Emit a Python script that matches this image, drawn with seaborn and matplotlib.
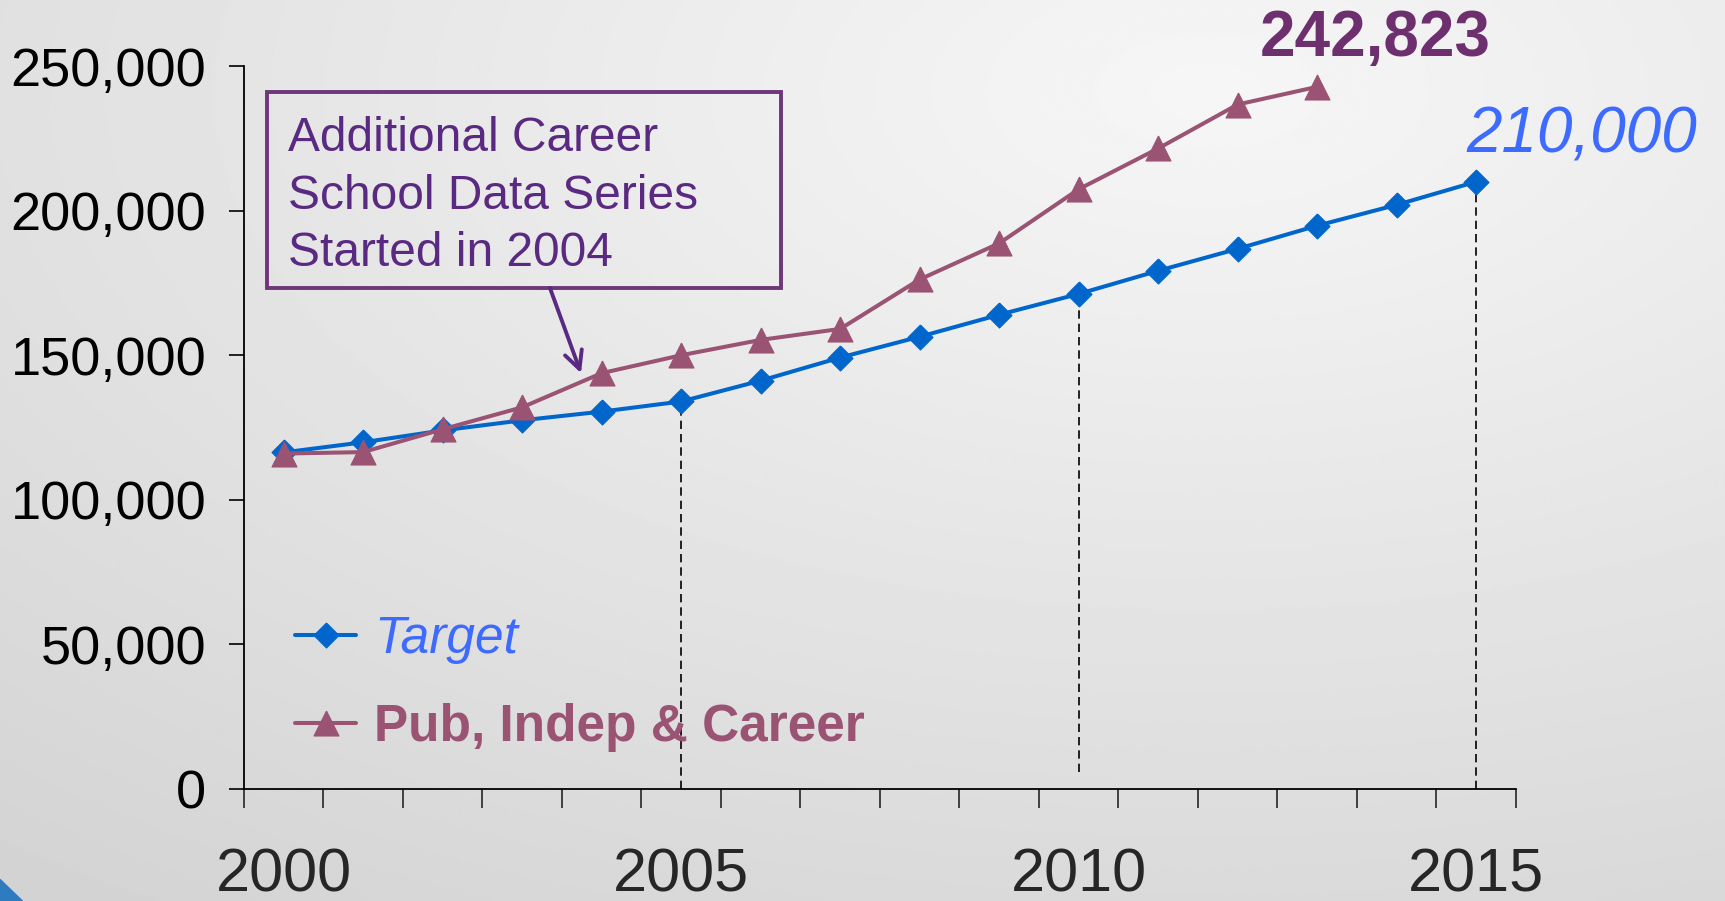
import numpy as np
import pandas as pd
import matplotlib
matplotlib.use("Agg")
import matplotlib.pyplot as plt
import matplotlib.patches as mpatches
from matplotlib.ticker import FuncFormatter
import seaborn as sns

# ── Data ─────────────────────────────────────────────────────────────────────
YEARS = list(range(2000, 2016))
TARGET = [116400, 119900, 124000, 127500, 130500, 134000, 141200, 149200,
          156400, 164000, 171200, 179200, 186800, 194800, 202000, 210000]
PUB_YEARS = list(range(2000, 2014))
PUB_INDEP_CAREER = [116000, 116500, 124400, 132000, 143800, 150000, 155300,
                    159100, 176200, 188700, 207400, 221500, 236700, 242823]
YTICKS = [0, 50000, 100000, 150000, 200000, 250000]
XLABEL_YEARS = [2000, 2005, 2010, 2015]
DROP_YEARS = [2005, 2010, 2015]
DROP_BOTTOMS = [0, 6000, 0]
NOTE = "Additional Career\nSchool Data Series\nStarted in 2004"

# ── Colours / markers ────────────────────────────────────────────────────────
TARGET_COLOR = "#0066CC"
TARGET_TEXT = "#3D6BFF"
PUB_COLOR = "#9A5373"
PUB_LABEL = "#6E2F6E"
NOTE_COLOR = "#5A2A82"
BOX_EDGE = "#70367A"

DIAMOND = [(0, 1), (1, 0), (0, -1), (-1, 0), (0, 1)]
TRIANGLE = [(0, 1), (1, -1), (-1, -1), (0, 1)]

sns.set_style("white")
plt.rcParams["font.family"] = ["Liberation Sans", "DejaVu Sans"]

fig = plt.figure(figsize=(17.25, 9.01), dpi=100)

# ── Background gradient ──────────────────────────────────────────────────────
bg = fig.add_axes([0, 0, 1, 1], zorder=-10)
yy, xx = np.mgrid[0:1:300j, 0:1:600j]
d = np.sqrt(((xx - 0.7) / 0.9) ** 2 + ((yy - 0.1) / 0.9) ** 2)
shade = np.clip(0.965 - 0.11 * d, 0, 1)
bg.imshow(shade, cmap="gray", vmin=0, vmax=1, aspect="auto",
          extent=[0, 1, 0, 1], origin="upper")
bg.add_patch(mpatches.Polygon([(0, 0), (0, 0.024), (0.013, 0)],
                              closed=True, color="#2F7BC0"))
bg.set_xlim(0, 1)
bg.set_ylim(0, 1)
bg.axis("off")

# ── Main chart ───────────────────────────────────────────────────────────────
ax = fig.add_axes([0.1414, 0.1243, 0.7374, 0.8024])
ax.patch.set_alpha(0)

target_df = pd.DataFrame({"year": YEARS, "value": TARGET})
pub_df = pd.DataFrame({"year": PUB_YEARS, "value": PUB_INDEP_CAREER})

sns.lineplot(data=target_df, x="year", y="value", ax=ax, color=TARGET_COLOR,
             lw=2.9, marker=DIAMOND, markersize=18, markeredgewidth=0.8,
             markeredgecolor=TARGET_COLOR, label="Target", zorder=3,
             clip_on=False)
sns.lineplot(data=pub_df, x="year", y="value", ax=ax, color=PUB_COLOR,
             lw=2.9, marker=TRIANGLE, markersize=18, markeredgewidth=0.8,
             markeredgecolor=PUB_COLOR, label="Pub, Indep & Career", zorder=4,
             clip_on=False)

drop_tops = [TARGET[YEARS.index(y)] for y in DROP_YEARS]
ax.vlines(DROP_YEARS, DROP_BOTTOMS, drop_tops, colors="black",
          linestyles=(0, (5, 3)), lw=1.2, zorder=2)

ax.set_xlim(YEARS[0] - 0.5, YEARS[-1] + 0.5)
ax.set_ylim(YTICKS[0], YTICKS[-1])
ax.set_yticks(YTICKS)
ax.yaxis.set_major_formatter(FuncFormatter(lambda v, _: f"{v:,.0f}"))
ax.set_xticks(XLABEL_YEARS)
ax.set_xticklabels([str(y) for y in XLABEL_YEARS])
ax.set_xticks([y - 0.5 for y in YEARS] + [YEARS[-1] + 0.5], minor=True)
ax.set_xlabel("")
ax.set_ylabel("")

ax.tick_params(axis="y", which="major", direction="out", length=11, width=1.2,
               labelsize=39, pad=16, colors="black", left=True)
ax.tick_params(axis="x", which="major", length=0, labelsize=44, pad=42)
ax.tick_params(axis="x", which="minor", direction="out", length=14, width=1.2,
               bottom=True)

for side in ["top", "right"]:
    ax.spines[side].set_visible(False)
for side in ["left", "bottom"]:
    ax.spines[side].set_color("black")
    ax.spines[side].set_linewidth(1.3)

# ── Legend ───────────────────────────────────────────────────────────────────
leg = ax.legend(loc="lower left", bbox_to_anchor=(0.04, 0.051), frameon=False,
                fontsize=37, handlelength=1.2, handletextpad=0.35,
                labelspacing=0.77, borderpad=0, borderaxespad=0)
t_target, t_pub = leg.get_texts()
t_target.set_style("italic")
t_target.set_color(TARGET_TEXT)
t_pub.set_weight("bold")
t_pub.set_color(PUB_COLOR)

# ── End-value labels ─────────────────────────────────────────────────────────
ax.annotate(f"{PUB_INDEP_CAREER[-1]:,}", xy=(PUB_YEARS[-1], PUB_INDEP_CAREER[-1]),
            xytext=(42, 22), textcoords="offset points", ha="center",
            va="baseline", fontsize=46, weight="bold", color=PUB_LABEL)
ax.annotate(f"{TARGET[-1]:,}", xy=(YEARS[-1], TARGET[-1]),
            xytext=(76, 21), textcoords="offset points", ha="center",
            va="baseline", fontsize=46, style="italic", color=TARGET_TEXT)

# ── Note box with arrow ──────────────────────────────────────────────────────
ax.add_patch(mpatches.Rectangle((0.018, 0.693), 0.404, 0.271,
                                transform=ax.transAxes, fill=False,
                                ec=BOX_EDGE, lw=2.8, clip_on=False))
ax.text(0.0346, 0.82, NOTE, transform=ax.transAxes, ha="left", va="center",
        fontsize=34.5, color=NOTE_COLOR, linespacing=1.36)
ax.annotate("", xy=(PUB_YEARS[4] - 0.26, PUB_INDEP_CAREER[4]), xycoords="data",
            xytext=(0.2406, 0.693), textcoords="axes fraction",
            arrowprops=dict(arrowstyle="->", color=NOTE_COLOR, lw=2.8,
                            mutation_scale=32, shrinkA=0, shrinkB=0))

fig.savefig("out.png", dpi=100)
